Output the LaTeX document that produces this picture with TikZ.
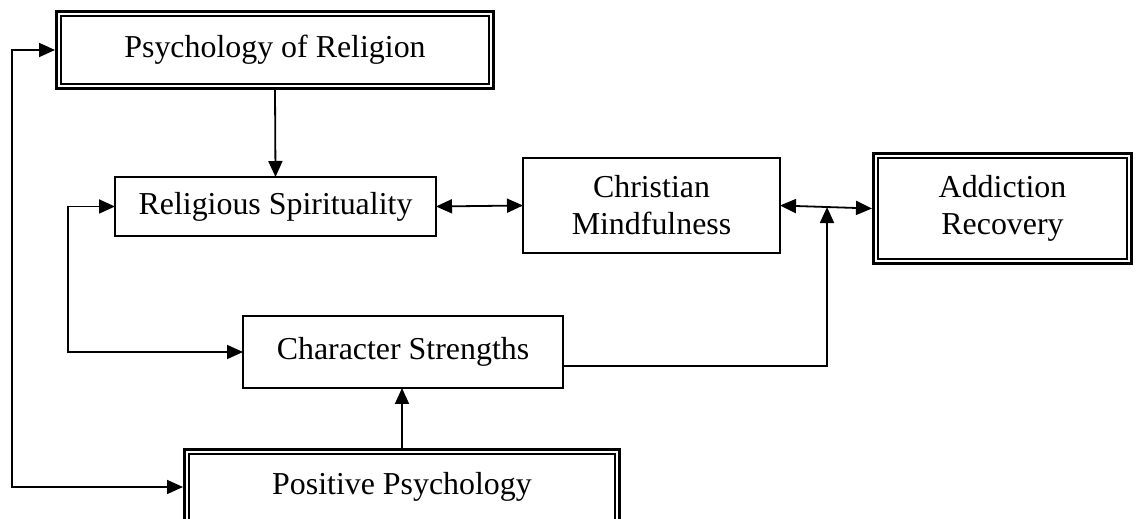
\documentclass[tikz,border=0pt]{standalone}
\usepackage{fontspec}
\setmainfont{Liberation Serif}
\usetikzlibrary{arrows.meta}
\begin{document}
\begin{tikzpicture}[x=1pt,y=1pt,
  every node/.style={font=\fontsize{31.9pt}{37pt}\selectfont, align=center, inner sep=0pt, outer sep=0pt},
  singlebox/.style={draw, line width=2pt},
  framebox/.style={draw=none,
    path picture={
      \draw[line width=3pt]
        ([shift={(1.5pt,1.5pt)}]path picture bounding box.south west) rectangle
        ([shift={(-1.5pt,-1.5pt)}]path picture bounding box.north east);
      \draw[line width=1.8pt]
        ([shift={(6pt,6pt)}]path picture bounding box.south west) rectangle
        ([shift={(-6pt,-6pt)}]path picture bounding box.north east);
    }},
  link/.style={line width=1.8pt},
  tip/.style={-{Triangle[length=16pt,width=14pt]}},
  bothtips/.style={{Triangle[length=16pt,width=14pt]}-{Triangle[length=16pt,width=14pt]}}
]
\useasboundingbox (0,0) rectangle (1137,519);
\clip (0,0) rectangle (1137,519);

% boxes
\node[framebox, minimum width=440pt, minimum height=80pt] (por) at (275,469) {Psychology of Religion};
\node[singlebox, minimum width=321pt, minimum height=59pt] (rs) at (275.5,312.5) {Religious Spirituality};
\node[singlebox, minimum width=257pt, minimum height=95pt] (cm) at (651.5,313.5) {Christian\\Mindfulness};
\node[framebox, minimum width=261pt, minimum height=113pt] (ar) at (1002.5,310.5) {Addiction\\Recovery};
\node[singlebox, minimum width=320pt, minimum height=72pt] (cs) at (403,167) {Character Strengths};
\node[framebox, minimum width=438pt, minimum height=78pt] (pp) at (402,32) {Positive Psychology};

% connectors
\draw[link, tip] (por.south) -- (rs.north);
\draw[link, bothtips] (rs.east) -- (cm.west);
\draw[link, bothtips] (cm.east) -- (ar.west);
\path (cm.east) -- (ar.west) coordinate[pos=0.511] (join);
\draw[link, tip] ([yshift=-14pt]cs.east) -| (join);
\draw[link, tip] (pp.north) -- (pp.north |- cs.south);
\draw[link, bothtips] (por.west) -- ++(-43,0) |- (pp.west);
\draw[link, bothtips] (rs.west) -- ++(-47,0) |- (cs.west);
\end{tikzpicture}
\end{document}
